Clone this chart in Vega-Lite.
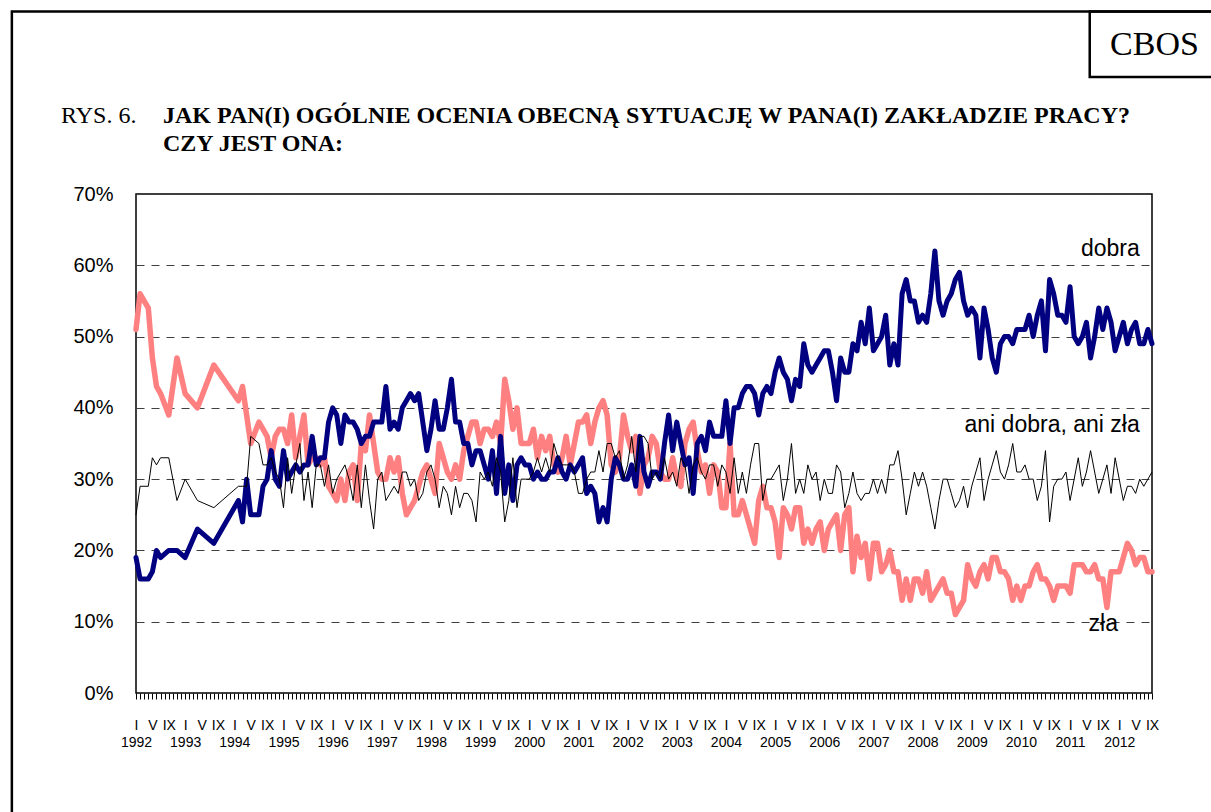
{
  "$schema": "https://vega.github.io/schema/vega-lite/v6.json",
  "width": 1016,
  "height": 499,
  "autosize": {"type": "none"},
  "padding": {"left": 136, "top": 194, "right": 59, "bottom": 119},
  "background": "white",
  "title": {
    "text": ["JAK PAN(I) OGÓLNIE OCENIA OBECNĄ SYTUACJĘ W PANA(I) ZAKŁADZIE PRACY?", "CZY JEST ONA:"],
    "anchor": "start", "frame": "group", "dx": 27, "dy": 146, "offset": 0,
    "font": "Liberation Serif", "fontSize": 24, "fontWeight": "bold", "lineHeight": 28, "color": "black"
  },
  "config": {
    "view": {"stroke": "black", "strokeWidth": 1.5},
    "axis": {"labelFont": "Liberation Sans", "labelColor": "black", "titleColor": "black", "tickColor": "black"}
  },
  "datasets": {
    "cbos": [
      {"t":0,"dobra":19,"ani":25,"zla":51},{"t":1,"dobra":16,"ani":29,"zla":56},{"t":3,"dobra":16,"ani":29,"zla":54},{"t":4,"dobra":17,"ani":33,"zla":47},{"t":5,"dobra":20,"ani":32,"zla":43},{"t":6,"dobra":19,"ani":33,"zla":42},{"t":8,"dobra":20,"ani":33,"zla":39},{"t":10,"dobra":20,"ani":27,"zla":47},{"t":12,"dobra":19,"ani":30,"zla":42},{"t":15,"dobra":23,"ani":27,"zla":40},{"t":19,"dobra":21,"ani":26,"zla":46},
      {"t":25,"dobra":27,"ani":29,"zla":41},{"t":26,"dobra":24,"ani":29,"zla":43},{"t":27,"dobra":30,"ani":29,"zla":39},{"t":28,"dobra":25,"ani":36,"zla":35},{"t":30,"dobra":25,"ani":35,"zla":38},{"t":31,"dobra":29,"ani":32,"zla":37},{"t":32,"dobra":30,"ani":32,"zla":36},{"t":33,"dobra":34,"ani":33,"zla":33},{"t":34,"dobra":30,"ani":31,"zla":36},{"t":35,"dobra":29,"ani":30,"zla":37},
      {"t":36,"dobra":34,"ani":26,"zla":37},{"t":37,"dobra":30,"ani":33,"zla":35},{"t":38,"dobra":31,"ani":28,"zla":39},{"t":39,"dobra":32,"ani":32,"zla":33},{"t":40,"dobra":31,"ani":35,"zla":36},{"t":41,"dobra":32,"ani":27,"zla":39},{"t":42,"dobra":32,"ani":31,"zla":32},{"t":43,"dobra":36,"ani":26,"zla":33},{"t":44,"dobra":32,"ani":32,"zla":33},{"t":45,"dobra":33,"ani":32,"zla":32},{"t":46,"dobra":33,"ani":29,"zla":33},{"t":47,"dobra":38,"ani":32,"zla":29},
      {"t":48,"dobra":40,"ani":28,"zla":28},{"t":49,"dobra":39,"ani":30,"zla":27},{"t":50,"dobra":35,"ani":31,"zla":30},{"t":51,"dobra":39,"ani":32,"zla":27},{"t":52,"dobra":38,"ani":30,"zla":31},{"t":53,"dobra":38,"ani":27,"zla":32},{"t":54,"dobra":37,"ani":32,"zla":27},{"t":55,"dobra":35,"ani":26,"zla":35},{"t":56,"dobra":36,"ani":32,"zla":34},{"t":57,"dobra":36,"ani":27,"zla":39},{"t":58,"dobra":38,"ani":23,"zla":35},{"t":59,"dobra":38,"ani":30,"zla":31},
      {"t":60,"dobra":38,"ani":31,"zla":30},{"t":61,"dobra":43,"ani":27,"zla":30},{"t":62,"dobra":37,"ani":28,"zla":33},{"t":63,"dobra":38,"ani":29,"zla":31},{"t":64,"dobra":37,"ani":28,"zla":33},{"t":65,"dobra":40,"ani":31,"zla":28},{"t":66,"dobra":41,"ani":31,"zla":25},{"t":67,"dobra":42,"ani":29,"zla":26},{"t":68,"dobra":41,"ani":30,"zla":27},{"t":69,"dobra":42,"ani":27,"zla":29},{"t":70,"dobra":38,"ani":28,"zla":31},{"t":71,"dobra":34,"ani":31,"zla":32},
      {"t":72,"dobra":37,"ani":32,"zla":30},{"t":73,"dobra":41,"ani":30,"zla":28},{"t":74,"dobra":37,"ani":26,"zla":35},{"t":75,"dobra":37,"ani":29,"zla":33},{"t":76,"dobra":40,"ani":28,"zla":31},{"t":77,"dobra":44,"ani":25,"zla":30},{"t":78,"dobra":38,"ani":29,"zla":32},{"t":79,"dobra":38,"ani":26,"zla":30},{"t":80,"dobra":35,"ani":28,"zla":34},{"t":81,"dobra":35,"ani":28,"zla":36},{"t":82,"dobra":32,"ani":27,"zla":38},{"t":83,"dobra":34,"ani":24,"zla":38},
      {"t":84,"dobra":34,"ani":31,"zla":35},{"t":85,"dobra":32,"ani":30,"zla":37},{"t":86,"dobra":30,"ani":31,"zla":37},{"t":87,"dobra":34,"ani":29,"zla":36},{"t":88,"dobra":28,"ani":33,"zla":38},{"t":89,"dobra":36,"ani":31,"zla":35},{"t":90,"dobra":28,"ani":24,"zla":44},{"t":91,"dobra":32,"ani":27,"zla":41},{"t":92,"dobra":27,"ani":33,"zla":37},{"t":93,"dobra":32,"ani":26,"zla":40},{"t":94,"dobra":33,"ani":30,"zla":35},{"t":95,"dobra":32,"ani":30,"zla":35},
      {"t":96,"dobra":32,"ani":30,"zla":35},{"t":97,"dobra":30,"ani":31,"zla":37},{"t":98,"dobra":31,"ani":33,"zla":33},{"t":99,"dobra":30,"ani":31,"zla":36},{"t":100,"dobra":30,"ani":33,"zla":34},{"t":101,"dobra":31,"ani":31,"zla":36},{"t":102,"dobra":31,"ani":35,"zla":32},{"t":103,"dobra":33,"ani":33,"zla":31},{"t":104,"dobra":31,"ani":32,"zla":33},{"t":105,"dobra":30,"ani":32,"zla":36},{"t":106,"dobra":32,"ani":32,"zla":32},{"t":107,"dobra":31,"ani":31,"zla":35},
      {"t":108,"dobra":32,"ani":28,"zla":38},{"t":109,"dobra":33,"ani":28,"zla":38},{"t":110,"dobra":28,"ani":30,"zla":39},{"t":111,"dobra":29,"ani":31,"zla":35},{"t":112,"dobra":28,"ani":31,"zla":38},{"t":113,"dobra":24,"ani":34,"zla":40},{"t":114,"dobra":26,"ani":31,"zla":41},{"t":115,"dobra":24,"ani":35,"zla":39},{"t":116,"dobra":30,"ani":35,"zla":32},{"t":117,"dobra":33,"ani":33,"zla":31},{"t":118,"dobra":32,"ani":34,"zla":33},{"t":119,"dobra":30,"ani":30,"zla":39},
      {"t":120,"dobra":30,"ani":32,"zla":36},{"t":121,"dobra":32,"ani":36,"zla":34},{"t":122,"dobra":29,"ani":31,"zla":36},{"t":123,"dobra":36,"ani":36,"zla":28},{"t":124,"dobra":31,"ani":36,"zla":32},{"t":125,"dobra":29,"ani":35,"zla":33},{"t":126,"dobra":31,"ani":30,"zla":36},{"t":127,"dobra":31,"ani":31,"zla":35},{"t":128,"dobra":30,"ani":30,"zla":31},{"t":129,"dobra":35,"ani":33,"zla":30},{"t":130,"dobra":39,"ani":30,"zla":30},{"t":131,"dobra":34,"ani":31,"zla":33},
      {"t":132,"dobra":38,"ani":29,"zla":30},{"t":133,"dobra":35,"ani":33,"zla":29},{"t":134,"dobra":32,"ani":32,"zla":35},{"t":135,"dobra":33,"ani":28,"zla":37},{"t":136,"dobra":28,"ani":32,"zla":38},{"t":137,"dobra":35,"ani":33,"zla":34},{"t":138,"dobra":36,"ani":31,"zla":31},{"t":139,"dobra":34,"ani":30,"zla":32},{"t":140,"dobra":38,"ani":32,"zla":28},{"t":141,"dobra":36,"ani":32,"zla":32},{"t":142,"dobra":36,"ani":29,"zla":31},{"t":143,"dobra":36,"ani":32,"zla":26},
      {"t":144,"dobra":41,"ani":31,"zla":26},{"t":145,"dobra":35,"ani":28,"zla":35},{"t":146,"dobra":40,"ani":33,"zla":25},{"t":147,"dobra":40,"ani":28,"zla":25},{"t":148,"dobra":42,"ani":31,"zla":27},{"t":149,"dobra":43,"ani":28,"zla":25},{"t":150,"dobra":43,"ani":32,"zla":23},{"t":151,"dobra":42,"ani":35,"zla":21},{"t":152,"dobra":39,"ani":35,"zla":27},{"t":153,"dobra":42,"ani":27,"zla":29},{"t":154,"dobra":43,"ani":30,"zla":26},{"t":155,"dobra":42,"ani":30,"zla":26},
      {"t":156,"dobra":45,"ani":31,"zla":24},{"t":157,"dobra":47,"ani":32,"zla":19},{"t":158,"dobra":45,"ani":27,"zla":26},{"t":159,"dobra":44,"ani":30,"zla":25},{"t":160,"dobra":41,"ani":35,"zla":23},{"t":161,"dobra":44,"ani":28,"zla":26},{"t":162,"dobra":43,"ani":30,"zla":26},{"t":163,"dobra":49,"ani":28,"zla":21},{"t":164,"dobra":46,"ani":32,"zla":23},{"t":165,"dobra":45,"ani":30,"zla":21},{"t":166,"dobra":46,"ani":31,"zla":23},{"t":167,"dobra":47,"ani":27,"zla":24},
      {"t":168,"dobra":48,"ani":30,"zla":20},{"t":169,"dobra":48,"ani":28,"zla":23},{"t":170,"dobra":45,"ani":28,"zla":24},{"t":171,"dobra":41,"ani":32,"zla":25},{"t":172,"dobra":47,"ani":31,"zla":20},{"t":173,"dobra":45,"ani":26,"zla":25},{"t":174,"dobra":45,"ani":28,"zla":26},{"t":175,"dobra":49,"ani":31,"zla":17},{"t":176,"dobra":48,"ani":28,"zla":22},{"t":177,"dobra":52,"ani":27,"zla":19},{"t":178,"dobra":49,"ani":28,"zla":21},{"t":179,"dobra":54,"ani":28,"zla":16},
      {"t":180,"dobra":48,"ani":30,"zla":21},{"t":181,"dobra":49,"ani":28,"zla":21},{"t":182,"dobra":50,"ani":30,"zla":17},{"t":183,"dobra":53,"ani":28,"zla":18},{"t":184,"dobra":46,"ani":32,"zla":20},{"t":185,"dobra":49,"ani":32,"zla":17},{"t":186,"dobra":46,"ani":34,"zla":17},{"t":187,"dobra":56,"ani":30,"zla":13},{"t":188,"dobra":58,"ani":25,"zla":16},{"t":189,"dobra":55,"ani":28,"zla":13},{"t":190,"dobra":55,"ani":31,"zla":16},{"t":191,"dobra":52,"ani":29,"zla":16},
      {"t":192,"dobra":53,"ani":31,"zla":14},{"t":193,"dobra":52,"ani":29,"zla":17},{"t":194,"dobra":56,"ani":26,"zla":13},{"t":195,"dobra":62,"ani":23,"zla":14},{"t":196,"dobra":55,"ani":27,"zla":15},{"t":197,"dobra":53,"ani":30,"zla":16},{"t":198,"dobra":55,"ani":30,"zla":14},{"t":199,"dobra":56,"ani":28,"zla":14},{"t":200,"dobra":58,"ani":26,"zla":11},{"t":201,"dobra":59,"ani":27,"zla":12},{"t":202,"dobra":55,"ani":29,"zla":13},{"t":203,"dobra":53,"ani":26,"zla":18},
      {"t":204,"dobra":54,"ani":29,"zla":16},{"t":205,"dobra":53,"ani":31,"zla":15},{"t":206,"dobra":47,"ani":33,"zla":17},{"t":207,"dobra":54,"ani":27,"zla":18},{"t":208,"dobra":51,"ani":30,"zla":16},{"t":209,"dobra":47,"ani":32,"zla":19},{"t":210,"dobra":45,"ani":34,"zla":19},{"t":211,"dobra":49,"ani":31,"zla":17},{"t":212,"dobra":50,"ani":30,"zla":17},{"t":213,"dobra":50,"ani":32,"zla":16},{"t":214,"dobra":49,"ani":35,"zla":13},{"t":215,"dobra":51,"ani":31,"zla":15},
      {"t":216,"dobra":51,"ani":31,"zla":13},{"t":217,"dobra":51,"ani":32,"zla":15},{"t":218,"dobra":53,"ani":30,"zla":15},{"t":219,"dobra":50,"ani":30,"zla":17},{"t":220,"dobra":53,"ani":27,"zla":18},{"t":221,"dobra":55,"ani":29,"zla":16},{"t":222,"dobra":48,"ani":34,"zla":16},{"t":223,"dobra":58,"ani":24,"zla":15},{"t":224,"dobra":56,"ani":29,"zla":13},{"t":225,"dobra":53,"ani":30,"zla":15},{"t":226,"dobra":53,"ani":30,"zla":15},{"t":227,"dobra":52,"ani":31,"zla":15},
      {"t":228,"dobra":57,"ani":27,"zla":14},{"t":229,"dobra":50,"ani":30,"zla":18},{"t":230,"dobra":49,"ani":33,"zla":18},{"t":231,"dobra":50,"ani":29,"zla":18},{"t":232,"dobra":52,"ani":31,"zla":17},{"t":233,"dobra":47,"ani":34,"zla":17},{"t":234,"dobra":50,"ani":31,"zla":18},{"t":235,"dobra":54,"ani":28,"zla":16},{"t":236,"dobra":51,"ani":30,"zla":16},{"t":237,"dobra":54,"ani":32,"zla":12},{"t":238,"dobra":52,"ani":28,"zla":17},{"t":239,"dobra":48,"ani":33,"zla":17},
      {"t":240,"dobra":50,"ani":30,"zla":17},{"t":241,"dobra":52,"ani":27,"zla":19},{"t":242,"dobra":49,"ani":29,"zla":21},{"t":243,"dobra":51,"ani":29,"zla":20},{"t":244,"dobra":52,"ani":28,"zla":18},{"t":245,"dobra":49,"ani":30,"zla":19},{"t":246,"dobra":49,"ani":29,"zla":19},{"t":247,"dobra":51,"ani":30,"zla":17},{"t":248,"dobra":49,"ani":31,"zla":17}
    ],
    "frame": [
      {"x0": -30.3, "x1": 330, "y0": -40, "y1": 95.6},
      {"x0": 232.8, "x1": 330, "y0": 86.4, "y1": 95.6}
    ],
    "notes": [
      {"t": 245, "v": 61.3, "label": "dobra"},
      {"t": 245, "v": 36.6, "label": "ani dobra, ani zła"},
      {"t": 239.7, "v": 8.7, "label": "zła"}
    ],
    "brand": [
      {"t": 248.6, "v": 89.5, "label": "CBOS"}
    ],
    "fig": [
      {"t": -18.3, "v": 80.0, "label": "RYS. 6."}
    ]
  },
  "layer": [
    {
      "data": {"name": "cbos"},
      "mark": {"type": "line", "color": "#FF8080", "strokeWidth": 5.5, "strokeJoin": "round", "strokeCap": "round"},
      "encoding": {
        "x": {"field": "t", "type": "quantitative", "title": null, "scale": {"domain": [0, 248], "nice": false, "zero": false},
          "axis": {"orient": "bottom", "grid": false, "domain": false, "tickSize": 6, "tickWidth": 1, "values": [0,1,2,3,4,5,6,7,8,9,10,11,12,13,14,15,16,17,18,19,20,21,22,23,24,25,26,27,28,29,30,31,32,33,34,35,36,37,38,39,40,41,42,43,44,45,46,47,48,49,50,51,52,53,54,55,56,57,58,59,60,61,62,63,64,65,66,67,68,69,70,71,72,73,74,75,76,77,78,79,80,81,82,83,84,85,86,87,88,89,90,91,92,93,94,95,96,97,98,99,100,101,102,103,104,105,106,107,108,109,110,111,112,113,114,115,116,117,118,119,120,121,122,123,124,125,126,127,128,129,130,131,132,133,134,135,136,137,138,139,140,141,142,143,144,145,146,147,148,149,150,151,152,153,154,155,156,157,158,159,160,161,162,163,164,165,166,167,168,169,170,171,172,173,174,175,176,177,178,179,180,181,182,183,184,185,186,187,188,189,190,191,192,193,194,195,196,197,198,199,200,201,202,203,204,205,206,207,208,209,210,211,212,213,214,215,216,217,218,219,220,221,222,223,224,225,226,227,228,229,230,231,232,233,234,235,236,237,238,239,240,241,242,243,244,245,246,247,248], "labelExpr": "datum.value % 4 !== 0 ? '' : (datum.value % 12 === 0 ? ['I', '' + (1992 + datum.value / 12)] : (datum.value % 12 === 4 ? 'V' : 'IX'))", "labelFontSize": 14, "labelLineHeight": 17, "labelPadding": 19, "labelBaseline": "top", "labelAlign": "center", "labelOverlap": false, "labelFlush": false, "labelBound": false}},
        "y": {"field": "zla", "type": "quantitative", "title": null, "scale": {"domain": [0, 70], "nice": false},
          "axis": {"values": [0,10,20,30,40,50,60,70], "grid": true, "gridDash": [8,7], "gridColor": "#404040", "gridWidth": 1, "ticks": false, "domain": false, "labelPadding": 23, "labelFontSize": 20, "labelExpr": "datum.value + '%'"}}
      }
    },
    {
      "data": {"name": "cbos"},
      "mark": {"type": "line", "color": "#000080", "strokeWidth": 5, "strokeJoin": "round", "strokeCap": "round"},
      "encoding": {
        "x": {"field": "t", "type": "quantitative", "title": null, "scale": {"domain": [0, 248], "nice": false, "zero": false},
          "axis": {"orient": "bottom", "grid": false, "domain": false, "tickSize": 6, "tickWidth": 1, "values": [0,1,2,3,4,5,6,7,8,9,10,11,12,13,14,15,16,17,18,19,20,21,22,23,24,25,26,27,28,29,30,31,32,33,34,35,36,37,38,39,40,41,42,43,44,45,46,47,48,49,50,51,52,53,54,55,56,57,58,59,60,61,62,63,64,65,66,67,68,69,70,71,72,73,74,75,76,77,78,79,80,81,82,83,84,85,86,87,88,89,90,91,92,93,94,95,96,97,98,99,100,101,102,103,104,105,106,107,108,109,110,111,112,113,114,115,116,117,118,119,120,121,122,123,124,125,126,127,128,129,130,131,132,133,134,135,136,137,138,139,140,141,142,143,144,145,146,147,148,149,150,151,152,153,154,155,156,157,158,159,160,161,162,163,164,165,166,167,168,169,170,171,172,173,174,175,176,177,178,179,180,181,182,183,184,185,186,187,188,189,190,191,192,193,194,195,196,197,198,199,200,201,202,203,204,205,206,207,208,209,210,211,212,213,214,215,216,217,218,219,220,221,222,223,224,225,226,227,228,229,230,231,232,233,234,235,236,237,238,239,240,241,242,243,244,245,246,247,248], "labelExpr": "datum.value % 4 !== 0 ? '' : (datum.value % 12 === 0 ? ['I', '' + (1992 + datum.value / 12)] : (datum.value % 12 === 4 ? 'V' : 'IX'))", "labelFontSize": 14, "labelLineHeight": 17, "labelPadding": 19, "labelBaseline": "top", "labelAlign": "center", "labelOverlap": false, "labelFlush": false, "labelBound": false}},
        "y": {"field": "dobra", "type": "quantitative", "title": null, "scale": {"domain": [0, 70], "nice": false},
          "axis": {"values": [0,10,20,30,40,50,60,70], "grid": true, "gridDash": [8,7], "gridColor": "#404040", "gridWidth": 1, "ticks": false, "domain": false, "labelPadding": 23, "labelFontSize": 20, "labelExpr": "datum.value + '%'"}}
      }
    },
    {
      "data": {"name": "cbos"},
      "mark": {"type": "line", "color": "black", "strokeWidth": 1},
      "encoding": {
        "x": {"field": "t", "type": "quantitative", "title": null, "scale": {"domain": [0, 248], "nice": false, "zero": false},
          "axis": {"orient": "bottom", "grid": false, "domain": false, "tickSize": 6, "tickWidth": 1, "values": [0,1,2,3,4,5,6,7,8,9,10,11,12,13,14,15,16,17,18,19,20,21,22,23,24,25,26,27,28,29,30,31,32,33,34,35,36,37,38,39,40,41,42,43,44,45,46,47,48,49,50,51,52,53,54,55,56,57,58,59,60,61,62,63,64,65,66,67,68,69,70,71,72,73,74,75,76,77,78,79,80,81,82,83,84,85,86,87,88,89,90,91,92,93,94,95,96,97,98,99,100,101,102,103,104,105,106,107,108,109,110,111,112,113,114,115,116,117,118,119,120,121,122,123,124,125,126,127,128,129,130,131,132,133,134,135,136,137,138,139,140,141,142,143,144,145,146,147,148,149,150,151,152,153,154,155,156,157,158,159,160,161,162,163,164,165,166,167,168,169,170,171,172,173,174,175,176,177,178,179,180,181,182,183,184,185,186,187,188,189,190,191,192,193,194,195,196,197,198,199,200,201,202,203,204,205,206,207,208,209,210,211,212,213,214,215,216,217,218,219,220,221,222,223,224,225,226,227,228,229,230,231,232,233,234,235,236,237,238,239,240,241,242,243,244,245,246,247,248], "labelExpr": "datum.value % 4 !== 0 ? '' : (datum.value % 12 === 0 ? ['I', '' + (1992 + datum.value / 12)] : (datum.value % 12 === 4 ? 'V' : 'IX'))", "labelFontSize": 14, "labelLineHeight": 17, "labelPadding": 19, "labelBaseline": "top", "labelAlign": "center", "labelOverlap": false, "labelFlush": false, "labelBound": false}},
        "y": {"field": "ani", "type": "quantitative", "title": null, "scale": {"domain": [0, 70], "nice": false},
          "axis": {"values": [0,10,20,30,40,50,60,70], "grid": true, "gridDash": [8,7], "gridColor": "#404040", "gridWidth": 1, "ticks": false, "domain": false, "labelPadding": 23, "labelFontSize": 20, "labelExpr": "datum.value + '%'"}}
      }
    },
    {
      "data": {"name": "notes"},
      "mark": {"type": "text", "align": "right", "baseline": "alphabetic", "font": "Liberation Sans", "fontSize": 23, "color": "black"},
      "encoding": {
        "x": {"field": "t", "type": "quantitative", "title": null, "scale": {"domain": [0, 248], "nice": false, "zero": false},
          "axis": {"orient": "bottom", "grid": false, "domain": false, "tickSize": 6, "tickWidth": 1, "values": [0,1,2,3,4,5,6,7,8,9,10,11,12,13,14,15,16,17,18,19,20,21,22,23,24,25,26,27,28,29,30,31,32,33,34,35,36,37,38,39,40,41,42,43,44,45,46,47,48,49,50,51,52,53,54,55,56,57,58,59,60,61,62,63,64,65,66,67,68,69,70,71,72,73,74,75,76,77,78,79,80,81,82,83,84,85,86,87,88,89,90,91,92,93,94,95,96,97,98,99,100,101,102,103,104,105,106,107,108,109,110,111,112,113,114,115,116,117,118,119,120,121,122,123,124,125,126,127,128,129,130,131,132,133,134,135,136,137,138,139,140,141,142,143,144,145,146,147,148,149,150,151,152,153,154,155,156,157,158,159,160,161,162,163,164,165,166,167,168,169,170,171,172,173,174,175,176,177,178,179,180,181,182,183,184,185,186,187,188,189,190,191,192,193,194,195,196,197,198,199,200,201,202,203,204,205,206,207,208,209,210,211,212,213,214,215,216,217,218,219,220,221,222,223,224,225,226,227,228,229,230,231,232,233,234,235,236,237,238,239,240,241,242,243,244,245,246,247,248], "labelExpr": "datum.value % 4 !== 0 ? '' : (datum.value % 12 === 0 ? ['I', '' + (1992 + datum.value / 12)] : (datum.value % 12 === 4 ? 'V' : 'IX'))", "labelFontSize": 14, "labelLineHeight": 17, "labelPadding": 19, "labelBaseline": "top", "labelAlign": "center", "labelOverlap": false, "labelFlush": false, "labelBound": false}},
        "y": {"field": "v", "type": "quantitative", "title": null, "scale": {"domain": [0, 70], "nice": false},
          "axis": {"values": [0,10,20,30,40,50,60,70], "grid": true, "gridDash": [8,7], "gridColor": "#404040", "gridWidth": 1, "ticks": false, "domain": false, "labelPadding": 23, "labelFontSize": 20, "labelExpr": "datum.value + '%'"}},
        "text": {"field": "label"}
      }
    },
    {
      "data": {"name": "frame"},
      "mark": {"type": "rect", "fill": "white", "fillOpacity": 0, "stroke": "black", "strokeWidth": 2.5},
      "encoding": {
        "x": {"field": "x0", "type": "quantitative", "title": null, "scale": {"domain": [0, 248], "nice": false, "zero": false},
          "axis": {"orient": "bottom", "grid": false, "domain": false, "tickSize": 6, "tickWidth": 1, "values": [0,1,2,3,4,5,6,7,8,9,10,11,12,13,14,15,16,17,18,19,20,21,22,23,24,25,26,27,28,29,30,31,32,33,34,35,36,37,38,39,40,41,42,43,44,45,46,47,48,49,50,51,52,53,54,55,56,57,58,59,60,61,62,63,64,65,66,67,68,69,70,71,72,73,74,75,76,77,78,79,80,81,82,83,84,85,86,87,88,89,90,91,92,93,94,95,96,97,98,99,100,101,102,103,104,105,106,107,108,109,110,111,112,113,114,115,116,117,118,119,120,121,122,123,124,125,126,127,128,129,130,131,132,133,134,135,136,137,138,139,140,141,142,143,144,145,146,147,148,149,150,151,152,153,154,155,156,157,158,159,160,161,162,163,164,165,166,167,168,169,170,171,172,173,174,175,176,177,178,179,180,181,182,183,184,185,186,187,188,189,190,191,192,193,194,195,196,197,198,199,200,201,202,203,204,205,206,207,208,209,210,211,212,213,214,215,216,217,218,219,220,221,222,223,224,225,226,227,228,229,230,231,232,233,234,235,236,237,238,239,240,241,242,243,244,245,246,247,248], "labelExpr": "datum.value % 4 !== 0 ? '' : (datum.value % 12 === 0 ? ['I', '' + (1992 + datum.value / 12)] : (datum.value % 12 === 4 ? 'V' : 'IX'))", "labelFontSize": 14, "labelLineHeight": 17, "labelPadding": 19, "labelBaseline": "top", "labelAlign": "center", "labelOverlap": false, "labelFlush": false, "labelBound": false}},
        "x2": {"field": "x1"},
        "y": {"field": "y0", "type": "quantitative", "title": null, "scale": {"domain": [0, 70], "nice": false},
          "axis": {"values": [0,10,20,30,40,50,60,70], "grid": true, "gridDash": [8,7], "gridColor": "#404040", "gridWidth": 1, "ticks": false, "domain": false, "labelPadding": 23, "labelFontSize": 20, "labelExpr": "datum.value + '%'"}},
        "y2": {"field": "y1"}
      }
    },
    {
      "data": {"name": "brand"},
      "mark": {"type": "text", "align": "center", "baseline": "alphabetic", "font": "Liberation Serif", "fontSize": 34, "color": "black"},
      "encoding": {
        "x": {"field": "t", "type": "quantitative", "title": null, "scale": {"domain": [0, 248], "nice": false, "zero": false},
          "axis": {"orient": "bottom", "grid": false, "domain": false, "tickSize": 6, "tickWidth": 1, "values": [0,1,2,3,4,5,6,7,8,9,10,11,12,13,14,15,16,17,18,19,20,21,22,23,24,25,26,27,28,29,30,31,32,33,34,35,36,37,38,39,40,41,42,43,44,45,46,47,48,49,50,51,52,53,54,55,56,57,58,59,60,61,62,63,64,65,66,67,68,69,70,71,72,73,74,75,76,77,78,79,80,81,82,83,84,85,86,87,88,89,90,91,92,93,94,95,96,97,98,99,100,101,102,103,104,105,106,107,108,109,110,111,112,113,114,115,116,117,118,119,120,121,122,123,124,125,126,127,128,129,130,131,132,133,134,135,136,137,138,139,140,141,142,143,144,145,146,147,148,149,150,151,152,153,154,155,156,157,158,159,160,161,162,163,164,165,166,167,168,169,170,171,172,173,174,175,176,177,178,179,180,181,182,183,184,185,186,187,188,189,190,191,192,193,194,195,196,197,198,199,200,201,202,203,204,205,206,207,208,209,210,211,212,213,214,215,216,217,218,219,220,221,222,223,224,225,226,227,228,229,230,231,232,233,234,235,236,237,238,239,240,241,242,243,244,245,246,247,248], "labelExpr": "datum.value % 4 !== 0 ? '' : (datum.value % 12 === 0 ? ['I', '' + (1992 + datum.value / 12)] : (datum.value % 12 === 4 ? 'V' : 'IX'))", "labelFontSize": 14, "labelLineHeight": 17, "labelPadding": 19, "labelBaseline": "top", "labelAlign": "center", "labelOverlap": false, "labelFlush": false, "labelBound": false}},
        "y": {"field": "v", "type": "quantitative", "title": null, "scale": {"domain": [0, 70], "nice": false},
          "axis": {"values": [0,10,20,30,40,50,60,70], "grid": true, "gridDash": [8,7], "gridColor": "#404040", "gridWidth": 1, "ticks": false, "domain": false, "labelPadding": 23, "labelFontSize": 20, "labelExpr": "datum.value + '%'"}},
        "text": {"field": "label"}
      }
    },
    {
      "data": {"name": "fig"},
      "mark": {"type": "text", "align": "left", "baseline": "alphabetic", "font": "Liberation Serif", "fontSize": 24, "color": "black"},
      "encoding": {
        "x": {"field": "t", "type": "quantitative", "title": null, "scale": {"domain": [0, 248], "nice": false, "zero": false},
          "axis": {"orient": "bottom", "grid": false, "domain": false, "tickSize": 6, "tickWidth": 1, "values": [0,1,2,3,4,5,6,7,8,9,10,11,12,13,14,15,16,17,18,19,20,21,22,23,24,25,26,27,28,29,30,31,32,33,34,35,36,37,38,39,40,41,42,43,44,45,46,47,48,49,50,51,52,53,54,55,56,57,58,59,60,61,62,63,64,65,66,67,68,69,70,71,72,73,74,75,76,77,78,79,80,81,82,83,84,85,86,87,88,89,90,91,92,93,94,95,96,97,98,99,100,101,102,103,104,105,106,107,108,109,110,111,112,113,114,115,116,117,118,119,120,121,122,123,124,125,126,127,128,129,130,131,132,133,134,135,136,137,138,139,140,141,142,143,144,145,146,147,148,149,150,151,152,153,154,155,156,157,158,159,160,161,162,163,164,165,166,167,168,169,170,171,172,173,174,175,176,177,178,179,180,181,182,183,184,185,186,187,188,189,190,191,192,193,194,195,196,197,198,199,200,201,202,203,204,205,206,207,208,209,210,211,212,213,214,215,216,217,218,219,220,221,222,223,224,225,226,227,228,229,230,231,232,233,234,235,236,237,238,239,240,241,242,243,244,245,246,247,248], "labelExpr": "datum.value % 4 !== 0 ? '' : (datum.value % 12 === 0 ? ['I', '' + (1992 + datum.value / 12)] : (datum.value % 12 === 4 ? 'V' : 'IX'))", "labelFontSize": 14, "labelLineHeight": 17, "labelPadding": 19, "labelBaseline": "top", "labelAlign": "center", "labelOverlap": false, "labelFlush": false, "labelBound": false}},
        "y": {"field": "v", "type": "quantitative", "title": null, "scale": {"domain": [0, 70], "nice": false},
          "axis": {"values": [0,10,20,30,40,50,60,70], "grid": true, "gridDash": [8,7], "gridColor": "#404040", "gridWidth": 1, "ticks": false, "domain": false, "labelPadding": 23, "labelFontSize": 20, "labelExpr": "datum.value + '%'"}},
        "text": {"field": "label"}
      }
    }
  ]
}
